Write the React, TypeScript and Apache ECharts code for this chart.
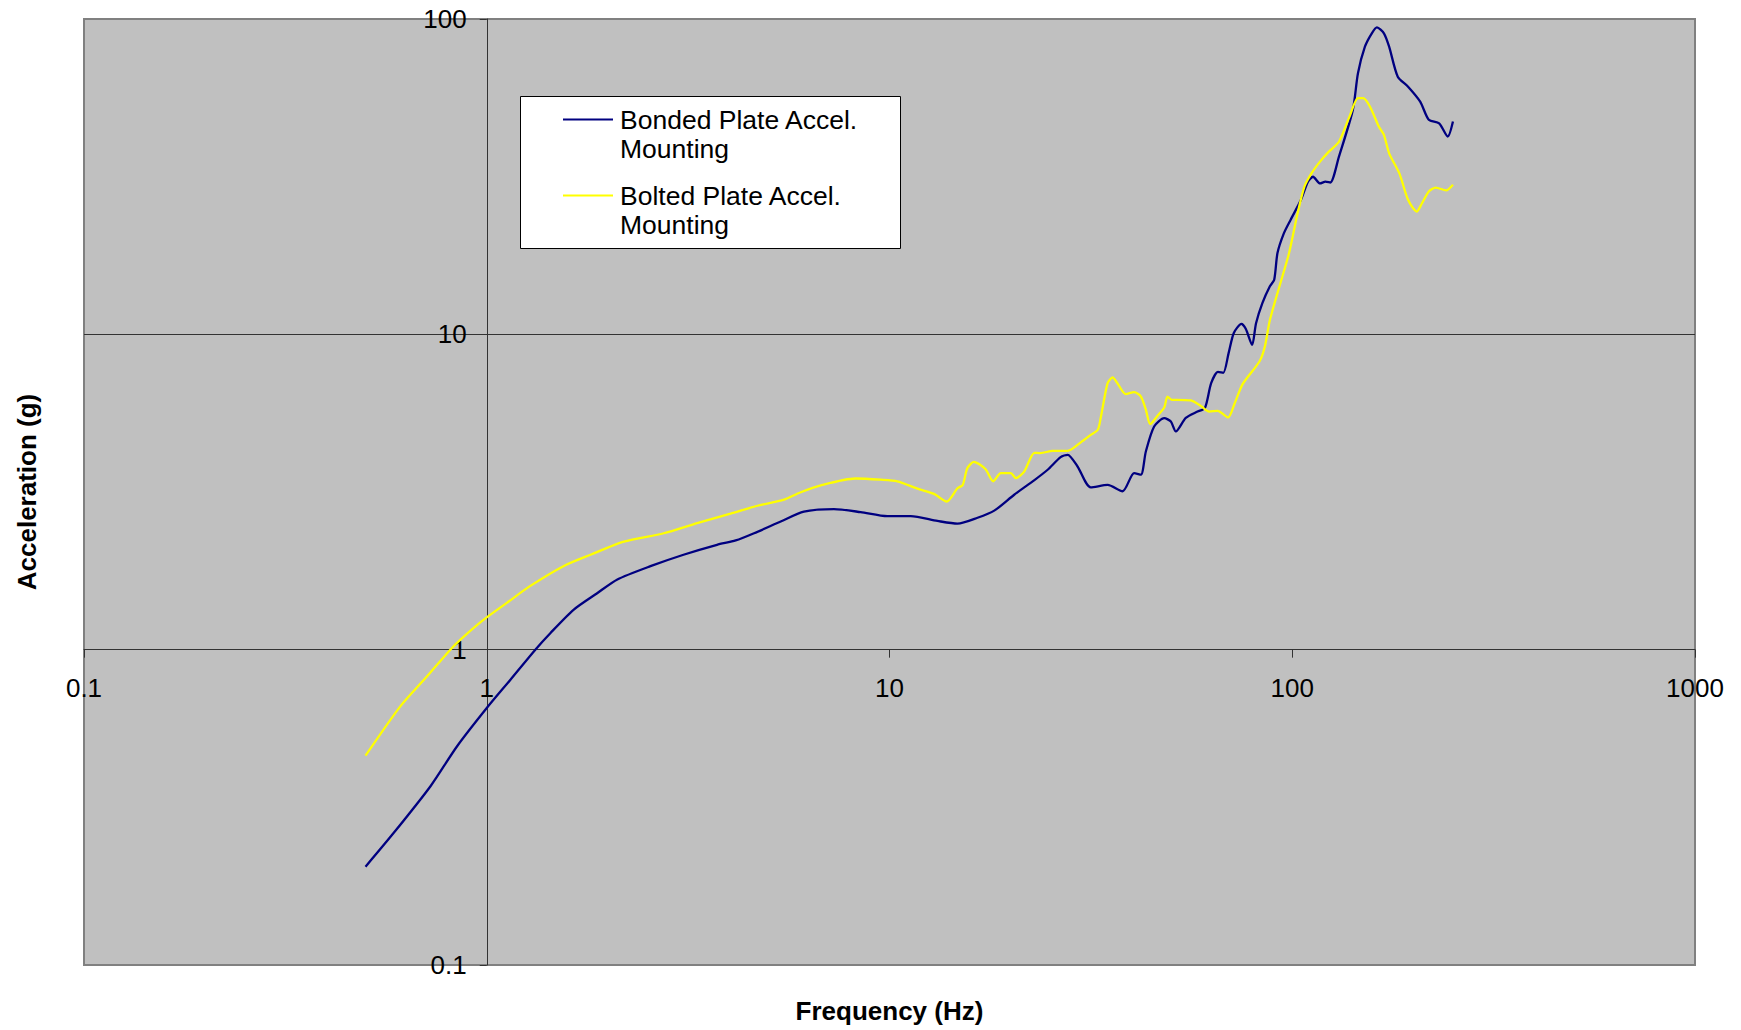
import React, { useEffect, useRef } from "react";
import * as echarts from "echarts";

// ---- Data ----
const bondedFreq = [
  0.5, 0.587, 0.725, 0.844, 1.0, 1.145, 1.32, 1.44, 1.645, 1.88, 2.11, 2.55, 3.08, 3.73, 4.15, 4.61, 5.37,
  6.13, 7.28, 8.48, 9.88, 11.29, 13.15, 14.75, 16.54, 18.2, 20.4, 22.9, 24.7, 26.6, 27.7, 29.3, 31.6, 34.8,
  37.9, 40.5, 42.1, 43.3, 45.4, 48.1, 49.96, 51.4, 54.4, 58.2, 60.7, 62.9, 65.4, 67.4, 69.5, 71.6, 74.8,
  76.7, 79.5, 81.3, 84.3, 88.0, 90.2, 91.9, 95.3, 99.1, 105.1, 109.4, 112.6, 117.2, 120.9, 124.3, 130.6,
  141.4, 145.6, 151.5, 157.6, 162.3, 168.9, 174, 182.8, 193.9, 207.8, 218.3, 231.6, 243.3, 250.6,
];
const bondedAcc = [
  0.205, 0.262, 0.369, 0.494, 0.653, 0.803, 1.0, 1.13, 1.34, 1.51, 1.67, 1.84, 2.0, 2.15, 2.22, 2.34, 2.55,
  2.74, 2.79, 2.73, 2.65, 2.65, 2.56, 2.51, 2.62, 2.76, 3.1, 3.45, 3.72, 4.08, 4.15, 3.81, 3.27, 3.33,
  3.18, 3.63, 3.59, 4.25, 5.1, 5.42, 5.29, 4.92, 5.43, 5.69, 5.84, 7.0, 7.6, 7.55, 8.72, 10.1, 10.8,
  10.4, 9.26, 10.85, 12.56, 14.2, 14.9, 18.1, 20.9, 23.1, 26.7, 30.5, 31.6, 30.1, 30.5, 30.3, 36.6,
  51.5, 67.3, 81.7, 90.1, 94.1, 90.1, 81.7, 65.6, 61.0, 54.7, 47.9, 46.7, 42.4, 47.3,
];
const boltedFreq = [
  0.5, 0.61, 0.711, 0.812, 0.877, 0.983, 1.124, 1.28, 1.55, 1.81, 2.19, 2.75, 3.33, 4.03, 4.7, 5.47, 6.0,
  6.81, 8.23, 9.51, 10.46, 11.73, 12.9, 13.87, 14.75, 15.2, 15.6, 16.2, 17.3, 18.1, 18.9, 20.0, 20.6, 21.6,
  22.9, 23.7, 25.4, 27.7, 29.9, 31.6, 32.9, 33.5, 34.8, 35.8, 36.8, 38.6, 40.5, 42.1, 43.3, 44.4, 46.3,
  48.1, 49.0, 50.2, 51.6, 56.0, 59.3, 62.2, 65.3, 69.3, 71.8, 75.3, 82.9, 85.5, 88.0, 93.4, 98.2, 103.1,
  107.2, 111.6, 117.2, 123.1, 130.6, 138.7, 145.6, 150.0, 156.0, 164, 168.9, 174, 184.5, 193.9, 203.7,
  209.8, 218.3, 227, 241, 250.6,
];
const boltedAcc = [
  0.461, 0.661, 0.823, 1.0, 1.1, 1.245, 1.41, 1.59, 1.84, 2.0, 2.2, 2.34, 2.52, 2.7, 2.86, 2.99, 3.15,
  3.33, 3.49, 3.46, 3.42, 3.24, 3.12, 2.95, 3.25, 3.33, 3.76, 3.94, 3.74, 3.42, 3.63, 3.63, 3.5, 3.67,
  4.21, 4.2, 4.27, 4.27, 4.55, 4.8, 4.98, 5.49, 7.0, 7.3, 7.0, 6.46, 6.56, 6.35, 5.77, 5.19, 5.52,
  5.86, 6.35, 6.2, 6.2, 6.17, 5.93, 5.69, 5.72, 5.45, 6.0, 6.95, 8.2, 9.15, 11.1, 14.5, 18.1, 24.2,
  29.4, 32.4, 35.3, 37.9, 40.8, 49.0, 56.1, 56.1, 52.7, 45.6, 42.9, 37.5, 32.4, 26.7, 24.5,
  26.0, 28.4, 29.2, 28.6, 29.8,
];
const seriesNames = ["Bonded Plate Accel.\nMounting", "Bolted Plate Accel.\nMounting"];
const xTitle = "Frequency (Hz)";
const yTitle = "Acceleration (g)";

const FONT = '"Liberation Sans", Arial, Helvetica, sans-serif';
const P = { left: 84, top: 19, width: 1611, height: 946 };

const fmt = (v: number) => String(Number(Number(v).toPrecision(6)));

export default function App() {
  const ref = useRef<HTMLDivElement>(null);
  useEffect(() => {
    const chart = echarts.init(ref.current!, null, { renderer: "svg" });
    const bonded = bondedFreq.map((f, i) => [f, bondedAcc[i]]);
    const bolted = boltedFreq.map((f, i) => [f, boltedAcc[i]]);
    const axisColor = "#333333";
    const option: any = {
      animation: false,
      backgroundColor: "#ffffff",
      textStyle: { fontFamily: FONT },
      grid: [
        {
          left: P.left, top: P.top, width: P.width, height: P.height, show: true,
          backgroundColor: "#C0C0C0", borderColor: "#808080", borderWidth: 2,
        },
        { left: P.left, top: P.top, width: P.width, height: (P.height * 2) / 3, show: false },
        { left: P.left + P.width / 4, top: P.top, width: (P.width * 3) / 4, height: P.height, show: false },
      ],
      xAxis: [
        {
          gridIndex: 0, type: "log", logBase: 10, min: 0.1, max: 1000,
          axisLine: { show: false, onZero: false }, axisTick: { show: false }, axisLabel: { show: false },
          splitLine: { show: false },
          name: xTitle, nameLocation: "middle", nameGap: 33,
          nameTextStyle: { fontSize: 26, fontWeight: "bold", color: "#000", fontFamily: FONT },
        },
        {
          gridIndex: 1, type: "log", logBase: 10, min: 0.1, max: 1000, position: "bottom",
          axisLine: { show: true, onZero: false, lineStyle: { color: axisColor, width: 1 } },
          axisTick: { show: true, length: 8, lineStyle: { color: axisColor, width: 1 } },
          axisLabel: { show: true, fontSize: 26, color: "#000", margin: 25, fontFamily: FONT, formatter: fmt },
          splitLine: { show: false },
        },
        { gridIndex: 2, type: "value", min: 0, max: 1, show: false, axisLine: { onZero: false } },
      ],
      yAxis: [
        {
          gridIndex: 0, type: "log", logBase: 10, min: 0.1, max: 100,
          axisLine: { show: false, onZero: false }, axisTick: { show: false }, axisLabel: { show: false },
          splitLine: { show: true, showMinLine: false, showMaxLine: false, lineStyle: { color: axisColor, width: 1 } },
          name: yTitle, nameLocation: "middle", nameGap: 44, nameRotate: 90,
          nameTextStyle: { fontSize: 26, fontWeight: "bold", color: "#000", fontFamily: FONT },
        },
        { gridIndex: 1, type: "value", min: 0, max: 1, show: false, axisLine: { onZero: false } },
        {
          gridIndex: 2, type: "log", logBase: 10, min: 0.1, max: 100, position: "left",
          axisLine: { show: true, onZero: false, lineStyle: { color: axisColor, width: 1 } },
          axisTick: { show: true, length: 7, lineStyle: { color: axisColor, width: 1 } },
          axisLabel: { show: true, fontSize: 26, color: "#000", margin: 20, fontFamily: FONT, formatter: fmt },
          splitLine: { show: false },
        },
      ],
      series: [
        {
          name: seriesNames[0], type: "line", xAxisIndex: 0, yAxisIndex: 0, data: bonded,
          showSymbol: false, smooth: 0.25, lineStyle: { color: "#000080", width: 2.3 },
          itemStyle: { color: "#000080" }, z: 3,
        },
        {
          name: seriesNames[1], type: "line", xAxisIndex: 0, yAxisIndex: 0, data: bolted,
          showSymbol: false, smooth: 0.25, lineStyle: { color: "#FFFF00", width: 2.3 },
          itemStyle: { color: "#FFFF00" }, z: 4,
        },
      ],
      graphic: [
        {
          type: "group", z: 100,
          children: [
            {
              type: "rect", shape: { x: 520.5, y: 96.5, width: 380, height: 152 },
              style: { fill: "#ffffff", stroke: "#000000", lineWidth: 1 },
            },
            {
              type: "line", shape: { x1: 563, y1: 119.5, x2: 613, y2: 119.5 },
              style: { stroke: "#000080", lineWidth: 2 },
            },
            {
              type: "line", shape: { x1: 563, y1: 195.5, x2: 613, y2: 195.5 },
              style: { stroke: "#FFFF00", lineWidth: 2 },
            },
            {
              type: "text", x: 620, y: 105,
              style: {
                text: seriesNames[0], fontSize: 26.5, lineHeight: 29, fontFamily: FONT,
                fill: "#000", verticalAlign: "top", align: "left",
              },
            },
            {
              type: "text", x: 620, y: 181,
              style: {
                text: seriesNames[1], fontSize: 26.5, lineHeight: 29, fontFamily: FONT,
                fill: "#000", verticalAlign: "top", align: "left",
              },
            },
          ],
        },
      ],
    };
    chart.setOption(option);
    return () => chart.dispose();
  }, []);
  return (
    <div
      ref={ref}
      style={{ position: "absolute", left: 0, top: 0, width: 1741, height: 1030, background: "#fff" }}
    />
  );
}
